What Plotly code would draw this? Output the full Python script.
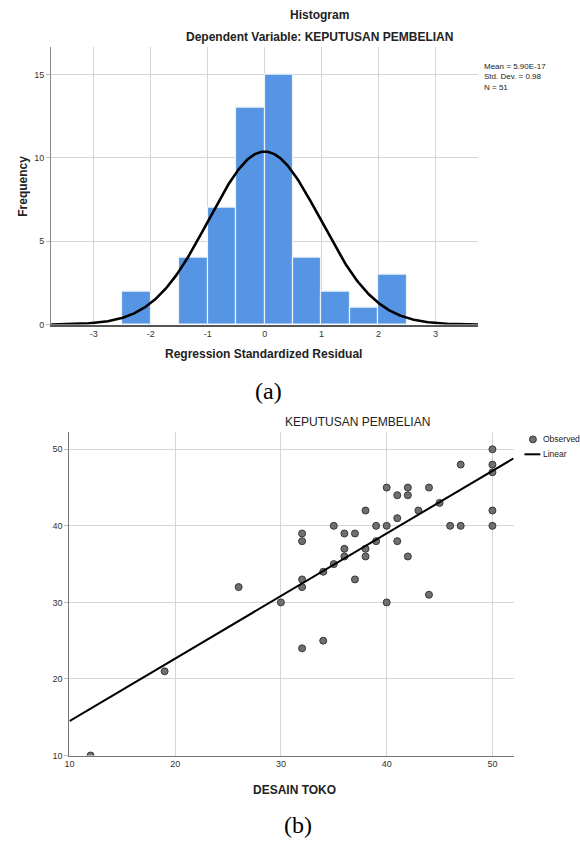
import numpy as np
import plotly.graph_objects as go

W, H = 580, 848

# ---------------- data ----------------
# Histogram of regression standardized residuals
bin_left = [-2.5, -2.0, -1.5, -1.0, -0.5, 0.0, 0.5, 1.0, 1.5, 2.0]
frequency = [2, 0, 4, 7, 13, 15, 4, 2, 1, 3]
bin_width = 0.5
resid_mean = 5.90e-17
resid_sd = 0.98
resid_n = 51
hist_xticks = [-3, -2, -1, 0, 1, 2, 3]
hist_yticks = [0, 5, 10, 15]

# Scatter: DESAIN TOKO vs KEPUTUSAN PEMBELIAN
desain_toko = [50, 47, 50, 50, 40, 42, 44, 41, 42, 45, 38, 43, 50, 41, 35, 39, 40,
               46, 47, 50, 32, 32, 36, 37, 39, 41, 36, 38, 36, 38, 42, 35, 34, 32,
               32, 37, 44, 40, 26, 30, 32, 34, 19, 12]
keputusan = [50, 48, 48, 47, 45, 45, 45, 44, 44, 43, 42, 42, 42, 41, 40, 40, 40,
             40, 40, 40, 39, 38, 39, 39, 38, 38, 37, 37, 36, 36, 36, 35, 34, 33,
             32, 33, 31, 30, 32, 30, 24, 25, 21, 10]
fit_intercept = 6.33
fit_slope = 0.817
scatter_xticks = [10, 20, 30, 40, 50]
scatter_yticks = [10, 20, 30, 40, 50]

# ---------------- helpers ----------------
def px(x):
    return x / W

def py(y):
    return 1 - y / H

FONT = "Arial, Liberation Sans, sans-serif"
SERIF = "Times New Roman, Liberation Serif, serif"
GRID = "#d6d6d6"

fig = go.Figure()

# histogram bars
bar_x = [l + bin_width / 2 for l in bin_left]
fig.add_trace(go.Bar(
    x=bar_x, y=frequency, width=[bin_width] * len(bar_x),
    marker=dict(color="#5595e3", line=dict(color="#eef3fa", width=1.2)),
    xaxis="x", yaxis="y", showlegend=False, hoverinfo="skip"))

# normal curve
xs = np.linspace(-3.75, 3.75, 400)
ys = resid_n * bin_width * np.exp(-0.5 * ((xs - resid_mean) / resid_sd) ** 2) / (resid_sd * np.sqrt(2 * np.pi))
fig.add_trace(go.Scatter(x=xs, y=ys, mode="lines", line=dict(color="black", width=2.6),
                         xaxis="x", yaxis="y", showlegend=False, hoverinfo="skip"))

# scatter points
fig.add_trace(go.Scatter(
    x=desain_toko, y=keputusan, mode="markers", name="Observed",
    marker=dict(size=7, color="#6f6f6f", line=dict(color="#383838", width=1)),
    xaxis="x2", yaxis="y2", showlegend=False))

# linear fit
fx = np.array([10, 52])
fig.add_trace(go.Scatter(x=fx, y=fit_intercept + fit_slope * fx, mode="lines", name="Linear",
                         line=dict(color="black", width=2), xaxis="x2", yaxis="y2",
                         showlegend=False))

tickfont = dict(family=FONT, size=9, color="#333333")

fig.update_layout(
    width=W, height=H, margin=dict(l=0, r=0, t=0, b=0),
    paper_bgcolor="white", plot_bgcolor="white",
    showlegend=False, bargap=0,
    xaxis=dict(domain=[px(46.5), px(477.3)], range=[-3.75, 3.75], anchor="y",
               tickvals=hist_xticks, ticktext=[str(v) for v in hist_xticks],
               showgrid=True, gridcolor=GRID, gridwidth=1, zeroline=False,
               showline=True, linecolor="#555555", linewidth=1.5, ticks="",
               tickfont=tickfont, fixedrange=True),
    yaxis=dict(domain=[py(326.5), py(47)], range=[0, 16.67], anchor="x",
               tickvals=hist_yticks, showgrid=True, gridcolor=GRID, gridwidth=1,
               zeroline=False, showline=True, linecolor="#888888", linewidth=1.2,
               ticks="outside", ticklen=4, tickcolor="#bbbbbb",
               tickfont=tickfont, fixedrange=True),
    xaxis2=dict(domain=[px(65), px(513)], range=[10, 52], anchor="y2",
                tickvals=scatter_xticks, showgrid=True, gridcolor=GRID, gridwidth=1,
                zeroline=False, showline=True, linecolor="#777777", linewidth=1.2,
                ticks="", tickfont=tickfont, fixedrange=True),
    yaxis2=dict(domain=[py(760), py(435)], range=[10, 52.2], anchor="x2",
                tickvals=scatter_yticks, showgrid=True, gridcolor=GRID, gridwidth=1,
                zeroline=False, showline=True, linecolor="#777777", linewidth=1.2,
                ticks="outside", ticklen=4, tickcolor="#bbbbbb",
                tickfont=tickfont, fixedrange=True),
)

ann = []
def text(x, y, s, size=12, bold=False, family=FONT, xanchor="center", yanchor="middle",
         angle=0, color="#222222", align="center"):
    ann.append(dict(x=px(x), y=py(y), xref="paper", yref="paper", text=(f"<b>{s}</b>" if bold else s),
                    showarrow=False, xanchor=xanchor, yanchor=yanchor, textangle=angle,
                    align=align, font=dict(family=family, size=size, color=color)))

text(317, 15, "Histogram", size=12, bold=True)
text(317, 37, "Dependent Variable: KEPUTUSAN PEMBELIAN", size=12, bold=True)
text(18, 187, "Frequency", size=12, bold=True, angle=-90)
text(261, 356, "Regression Standardized Residual", size=12, bold=True)
text(481, 77, "Mean = 5.90E-17<br>Std. Dev. = 0.98<br>N = 51", size=8, xanchor="left", align="left")
text(266, 393, "(a)", size=24, family=SERIF, color="black")

text(356, 425, "KEPUTUSAN PEMBELIAN", size=12)
text(541, 442, "Observed", size=8.5, xanchor="left")
text(541, 457, "Linear", size=8.5, xanchor="left")
text(292, 795, "DESAIN TOKO", size=12, bold=True)
text(296, 830, "(b)", size=24, family=SERIF, color="black")

fig.update_layout(annotations=ann)

# legend symbols for the scatter panel
fig.add_shape(type="circle", xref="paper", yref="paper",
              x0=px(529), x1=px(536), y0=py(445.5), y1=py(438.5),
              fillcolor="#6f6f6f", line=dict(color="#383838", width=1))
fig.add_shape(type="line", xref="paper", yref="paper",
              x0=px(524), x1=px(540), y0=py(457), y1=py(457),
              line=dict(color="black", width=2))

fig.write_html("out.html", config={"displayModeBar": False},
               post_script="document.body.style.margin='0';document.body.style.overflow='hidden';")
